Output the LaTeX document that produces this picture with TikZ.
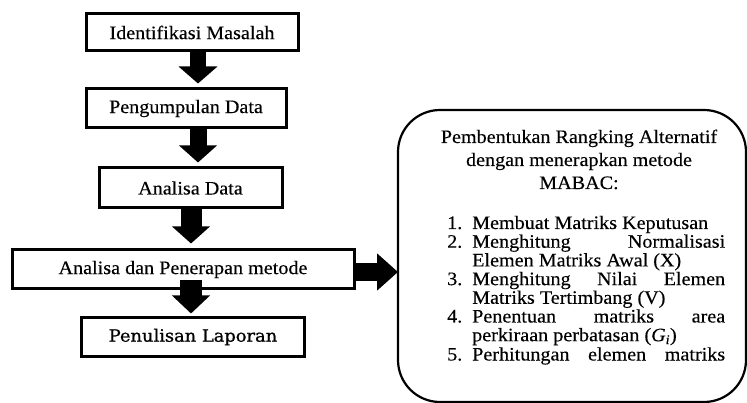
\documentclass[tikz,border=0pt]{standalone}
\usepackage{fontspec}
\setmainfont{Liberation Serif}[FakeStretch=1.06,FakeBold=0.3]
\newfontfamily\wideserif{DejaVu Serif}[FakeStretch=1.05,FakeBold=0.8]
\usetikzlibrary{arrows.meta,calc}
\tikzset{
  stepbox/.style={draw=black, line width=3pt, fill=white, inner sep=0pt},
  boxtext/.style={font=\fontsize{19}{22}\selectfont},
  blk/.style={line width=#1, draw=black},
  rtext/.style={font=\fontsize{19}{22}\selectfont, inner sep=0pt, text height=12.5pt, text depth=3.5pt},
}
\begin{document}
\begin{tikzpicture}[x=1pt,y=-1pt]
\useasboundingbox (0,0) rectangle (747,403);
% left boxes
\node[stepbox, minimum width=212pt, minimum height=37pt, boxtext] (b1) at (192,32.5) {Identifikasi Masalah};
\node[stepbox, minimum width=200pt, minimum height=39pt, boxtext] (b2) at (186,108.5) {Pengumpulan Data};
\node[stepbox, minimum width=183pt, minimum height=40pt, boxtext] (b3) at (190.5,188) {Analisa Data};
\node[stepbox, minimum width=342pt, minimum height=39pt, boxtext] (b4) at (183,269.5) {Analisa dan Penerapan metode};
\node[stepbox, minimum width=223pt, minimum height=38pt, font=\wideserif\fontsize{17}{20}\selectfont] (b5) at (193,337) {Penulisan Laporan};
% right rounded box
\draw[line width=2.2pt, rounded corners=42pt] (398,110) rectangle (746,402);
\coordinate (rb) at (398,272);
% arrow x positions
\coordinate (c1) at (198,0);
\coordinate (c3) at (191,0);
\coordinate (c4) at (191,280);
% block arrows
\draw[blk=16pt, -{Triangle[width=38pt,length=17pt]}, shorten >=4pt] (b1.south -| c1) -- (b2.north -| c1);
\draw[blk=17pt, -{Triangle[width=37pt,length=17pt]}, shorten >=4pt] (b2.south -| c1) -- (b3.north -| c1);
\draw[blk=21pt, -{Triangle[width=37pt,length=17pt]}, shorten >=5pt] (b3.south -| c3) -- (b4.north -| c3);
\draw[blk=22pt, -{Triangle[width=37pt,length=18pt]}, shorten >=3pt] (c4) -- (b5.north -| c4);
\draw[blk=18pt, -{Triangle[width=36pt,length=21pt]}] (b4.east |- rb) -- (rb);
% header
\node[rtext, anchor=base] (h1) at (579,143) {Pembentukan Rangking Alternatif};
\node[rtext, anchor=base] (h2) at (579,166) {dengan menerapkan metode};
\node[rtext, anchor=base] (h3) at (579,189) {MABAC:};
% list numbers
\node[rtext, anchor=base west] (n1) at (447,229) {1.};
\node[rtext, anchor=base west] (n2) at (447,247.7) {2.};
\node[rtext, anchor=base west] (n3) at (447,285.1) {3.};
\node[rtext, anchor=base west] (n4) at (447,322.5) {4.};
\node[rtext, anchor=base west] (n5) at (447,360.5) {5.};
% list lines
\node[rtext, anchor=base west] (l1) at (472,229) {Membuat Matriks Keputusan};
\node[rtext, anchor=base west] (l2) at (472,247.7) {\makebox[253pt][s]{Menghitung Normalisasi}};
\node[rtext, anchor=base west] (l3) at (472,266.4) {Elemen Matriks Awal (X)};
\node[rtext, anchor=base west] (l4) at (472,285.1) {\makebox[253pt][s]{Menghitung Nilai Elemen}};
\node[rtext, anchor=base west] (l5) at (472,303.8) {Matriks Tertimbang (V)};
\node[rtext, anchor=base west] (l6) at (472,322.5) {\makebox[253pt][s]{Penentuan matriks area}};
\node[rtext, anchor=base west] (l7) at (472,341.2) {perkiraan perbatasan (\textit{G}\textsubscript{\textit{i}})};
\node[rtext, anchor=base west] (l8) at (472,360.5) {\makebox[253pt][s]{Perhitungan elemen matriks}};
\end{tikzpicture}
\end{document}
